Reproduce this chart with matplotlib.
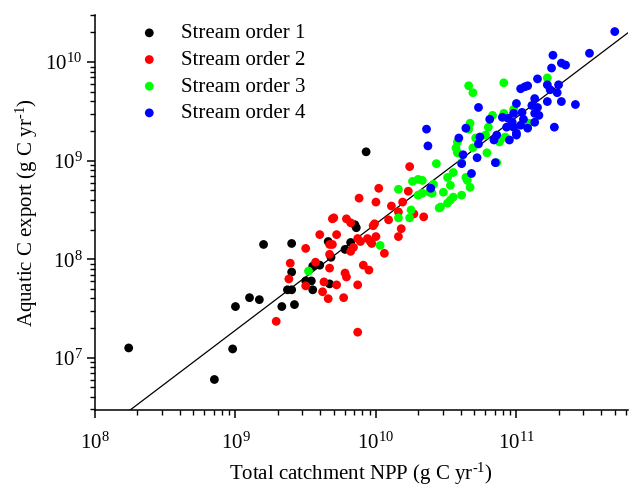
import numpy as np
import matplotlib
matplotlib.use("Agg")
import matplotlib.pyplot as plt
from matplotlib.ticker import LogLocator, LogFormatterSciNotation, NullFormatter

plt.rcParams["font.family"] = ["Liberation Serif", "DejaVu Serif"]
plt.rcParams["mathtext.fontset"] = "custom"
plt.rcParams["mathtext.rm"] = "Liberation Serif"
plt.rcParams["mathtext.it"] = "Liberation Serif:italic"

# values as log10(g C / yr): NPP (x), aquatic C export (y)
order1_npp = [8.24, 8.85, 8.98, 9.00, 9.10, 9.17, 9.20, 9.33, 9.40, 9.40, 9.37, 9.40,
              9.42, 9.50, 9.54, 9.55, 9.55, 9.60, 9.66, 9.68, 9.67, 9.85, 9.86, 9.82,
              9.78, 9.93]
order1_exp = [7.10, 6.78, 7.09, 7.52, 7.61, 7.59, 8.15, 7.52, 8.16, 7.87, 7.69, 7.69,
              7.54, 7.78, 7.78, 7.69, 7.93, 7.94, 8.18, 8.02, 7.75, 8.35, 8.32, 8.17,
              8.10, 9.09]

order2_npp = [9.29, 9.39, 9.38, 9.50, 9.50, 9.57, 9.60, 9.70, 9.72, 9.67, 9.69, 9.67,
              9.67, 9.63, 9.72, 9.62, 9.66, 9.77, 9.87, 9.87, 9.91, 9.95, 9.78, 9.79,
              10.24, 10.02, 9.88, 10.00, 10.11, 10.19, 10.23, 10.16, 10.27, 10.34, 9.69,
              9.79, 9.82, 10.09, 9.99, 9.98, 10.18, 10.00, 10.16, 9.94, 9.87, 9.89,
              9.84, 9.96, 9.97, 9.82, 10.06]
order2_exp = [7.37, 7.96, 7.80, 8.11, 7.73, 7.97, 8.25, 8.42, 8.25, 8.15, 8.15, 8.05,
              7.91, 7.77, 7.74, 7.67, 7.60, 7.61, 7.26, 7.74, 7.94, 7.89, 7.86, 7.82,
              8.94, 8.72, 8.62, 8.58, 8.54, 8.58, 8.69, 8.48, 8.46, 8.43, 8.41,
              8.41, 8.37, 8.40, 8.36, 8.34, 8.31, 8.23, 8.23, 8.21, 8.21, 8.18,
              8.12, 8.18, 8.16, 8.08, 8.06]

order3_npp = [9.52, 10.03, 10.43, 10.26, 10.30, 10.16, 10.30, 10.38, 10.33, 10.25, 10.24,
              10.16, 10.45, 10.66, 10.69, 10.91, 10.83, 10.67, 10.66, 10.80, 10.78, 10.71,
              10.58, 10.57, 10.58, 10.69, 10.61, 10.79, 10.88, 10.92, 10.55, 10.51, 10.64,
              10.65, 10.53, 10.41, 10.67, 10.48, 10.33, 10.40, 10.55, 10.53, 10.51, 10.61,
              10.46, 10.86, 11.22, 10.98, 11.09, 10.91]
order3_exp = [7.88, 8.14, 8.97, 8.79, 8.81, 8.71, 8.65, 8.68, 8.67, 8.50, 8.42,
              8.42, 8.52, 9.76, 9.69, 9.79, 9.46, 9.38, 9.32, 9.34, 9.26, 9.23,
              9.19, 9.13, 9.08, 9.13, 8.98, 9.08, 9.19, 9.24, 8.88, 8.83, 8.83,
              8.80, 8.75, 8.76, 8.73, 8.68, 8.80, 8.67, 8.63, 8.60, 8.57, 8.65,
              8.53, 8.98, 9.84, 9.52, 9.38, 9.48]

order4_npp = [10.37, 10.39, 10.36, 10.73, 10.59, 10.64, 10.81, 10.74, 10.73, 10.84, 10.86,
              10.90, 10.98, 11.00, 10.98, 10.95, 11.00, 10.62, 10.61, 10.72, 10.85, 10.68,
              11.70, 11.52, 11.26, 11.32, 11.35, 11.25, 11.15, 11.22, 11.03, 11.06, 11.08,
              11.30, 11.24, 11.29, 11.22, 11.32, 11.42, 11.13, 11.11, 11.15, 11.04, 11.13,
              11.16, 10.97, 11.05, 11.13, 11.03, 11.08, 11.27, 11.00, 10.94, 10.93]
order4_exp = [9.15, 8.72, 9.32, 9.54, 9.23, 9.33, 9.42, 9.24, 9.17, 9.21, 9.26,
              9.44, 9.48, 9.58, 9.34, 9.21, 9.26, 9.06, 8.97, 9.03, 8.98, 8.87,
              10.31, 10.09, 10.07, 9.99, 9.97, 9.94, 9.83, 9.77, 9.73, 9.75, 9.76,
              9.77, 9.72, 9.69, 9.60, 9.60, 9.57, 9.63, 9.56, 9.54, 9.49, 9.48,
              9.46, 9.39, 9.42, 9.39, 9.36, 9.33, 9.34, 9.28, 9.43, 9.34]

# log-log regression line: log10(export) = fit_a + fit_b * log10(NPP)
fit_a = -2.44
fit_b = 1.08

groups = [
    ("Stream order 1", order1_npp, order1_exp, "#000000"),
    ("Stream order 2", order2_npp, order2_exp, "#ff0000"),
    ("Stream order 3", order3_npp, order3_exp, "#00ff00"),
    ("Stream order 4", order4_npp, order4_exp, "#0000ff"),
]

fig = plt.figure(figsize=(6.29, 4.87), dpi=100)
ax = fig.add_axes([0.151, 0.158, 0.847, 0.811])

for label, lx, ly, color in groups:
    ax.scatter(10 ** np.array(lx), 10 ** np.array(ly), s=40, color=color,
               edgecolors="none", label=label, zorder=3)

xmin, xmax = 1e8, 6.2e11
xs = np.array([xmin, xmax])
ax.plot(xs, 10 ** (fit_a + fit_b * np.log10(xs)), color="black", lw=0.9, zorder=2)

ax.set_xscale("log")
ax.set_yscale("log")
ax.set_xlim(xmin, xmax)
ax.set_ylim(2.95e6, 3.0e10)

for axis in (ax.xaxis, ax.yaxis):
    axis.set_major_locator(LogLocator(base=10))
    axis.set_major_formatter(LogFormatterSciNotation())
    axis.set_minor_locator(LogLocator(base=10, subs=np.arange(2, 10)))
    axis.set_minor_formatter(NullFormatter())

ax.spines["top"].set_visible(False)
ax.spines["right"].set_visible(False)
for side in ("left", "bottom"):
    ax.spines[side].set_linewidth(1.1)
ax.tick_params(which="major", direction="out", length=6, width=1.1, labelsize=15, pad=3)
ax.tick_params(which="minor", direction="out", length=3.5, width=1.0)
ax.tick_params(axis="x", which="major", pad=10)

ax.set_xlabel("Total catchment NPP (g C yr$^{\\text{-1}}$)", fontsize=15, labelpad=5)
ax.set_ylabel("Aquatic C export (g C yr$^{\\text{-1}}$)", fontsize=15, labelpad=4)

ax.legend(loc="upper left", bbox_to_anchor=(0.055, 1.015), frameon=False, fontsize=15,
          handlelength=1.0, handletextpad=1.0, labelspacing=0.34, borderpad=0.2,
          scatterpoints=1)

fig.savefig("out.png", dpi=100)
